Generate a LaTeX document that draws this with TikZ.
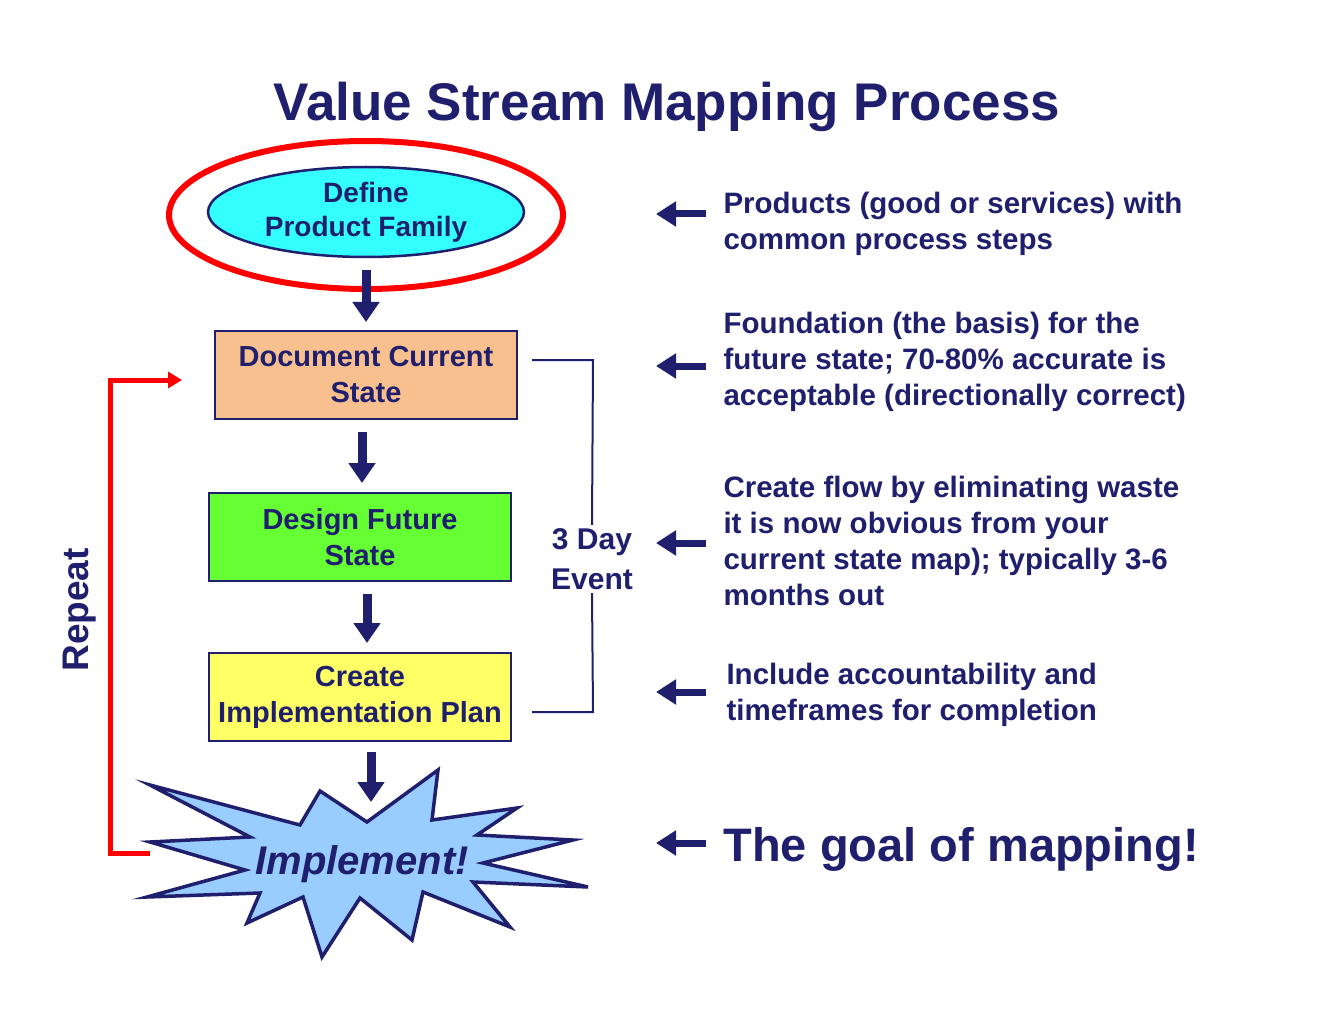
\documentclass[tikz,border=0pt]{standalone}
\usepackage{fontspec}
\setmainfont{Liberation Sans}
\usetikzlibrary{arrows.meta,shapes.geometric}
\definecolor{navy}{HTML}{1F1F6E}
\definecolor{peach}{HTML}{F9C08F}
\definecolor{lgreen}{HTML}{66FF33}
\definecolor{lyellow}{HTML}{FFFF66}
\definecolor{lblue}{HTML}{99CCFF}
\definecolor{cyanf}{HTML}{33FFFF}
\begin{document}
\begin{tikzpicture}[x=1pt,y=-1pt,
  stepbox/.style={draw=navy,line width=2.5pt,minimum width=302pt,minimum height=88pt,inner sep=2pt,align=center,font=\fontsize{29}{36}\selectfont\bfseries,text=navy},
  down/.style={navy,line width=9pt,-{Triangle[length=20pt,width=26pt]}},
  lft/.style={navy,line width=7pt,-{Triangle[length=20pt,width=24pt]}},
  note/.style={anchor=west,align=left,font=\fontsize{29.5}{36}\selectfont\bfseries,text=navy}]
\useasboundingbox (0,0) rectangle (1325,1024);
\node[font=\fontsize{53}{58}\selectfont\bfseries,text=navy] (title) at (667,107) {Value Stream Mapping Process};
\draw[red,line width=6pt] (366,215) ellipse [x radius=197,y radius=74];
\node[draw=navy,line width=2.5pt,fill=cyanf,ellipse,minimum width=316pt,minimum height=90pt,inner sep=0pt,align=center,font=\fontsize{28}{34}\selectfont\bfseries,text=navy] (def) at (366,212) {Define\\Product Family};
\node[stepbox,fill=peach] (doc) at (366,375) {Document Current\\State};
\node[stepbox,fill=lgreen] (des) at (360,537) {Design Future\\State};
\node[stepbox,fill=lyellow] (cre) at (360,697) {Create\\Implementation Plan};
\filldraw[navy,line width=3.5pt,fill=lblue,line join=miter]
 (150,785)--(300,825)--(320,791)--(367,822)--(438,770)--(432,820)--(517,808)--(477,835)--(573,840)--(483,863)--(588,887)--(473,882)--(510,927)--(423,892)--(412,940)--(360,898)--(322,957)--(303,897)--(247,923)--(260,893)--(147,897)--(245,870)--(150,842)--(250,837)--cycle;
\node[font=\fontsize{40}{44}\selectfont\bfseries\itshape,text=navy] (imp) at (362,864) {Implement!};
\coordinate (impw) at (150,853);
\draw[down] (366,270) -- (366,322);
\draw[down] (362,432) -- (362,483);
\draw[down] (367,594) -- (367,643);
\draw[down] (371,752) -- (371,802);
% bracket
\node[align=center,font=\fontsize{30}{40}\selectfont\bfseries,text=navy] (ev) at (592,559) {3 Day\\Event};
\draw[navy,line width=2pt] (532,360) -- (593,360) -- (ev.north);
\draw[navy,line width=2pt] (ev.south) -- (593,712) -- (532,712);
% repeat
\coordinate (rt) at (182,380);
\draw[red,line width=5pt,-{Triangle[length=14pt,width=16pt]}] (impw) -- (110,853) -- (110,380) -- (rt);
\node[rotate=90,font=\fontsize{37}{40}\selectfont\bfseries,text=navy] (rep) at (80,610) {Repeat};
% notes
\foreach \y/\n in {214/a,366/b,543/c,692/d,843/e}{
  \coordinate (s\n) at (706,\y); \coordinate (t\n) at (656,\y);
  \draw[lft] (s\n) -- (t\n);}
\node[note] (na) at (720,224) {Products (good or services) with\\common process steps};
\node[note] (nb) at (720,362) {Foundation (the basis) for the\\future state; 70-80\% accurate is\\acceptable (directionally correct)};
\node[note] (nc) at (720,541) {Create flow by eliminating waste\\it is now obvious from your\\current state map); typically 3-6\\months out};
\node[note] (nd) at (723,695) {Include accountability and\\timeframes for completion};
\node[note,font=\fontsize{47}{50}\selectfont\bfseries] (ne) at (720,849) {The goal of mapping!};
\end{tikzpicture}
\end{document}
